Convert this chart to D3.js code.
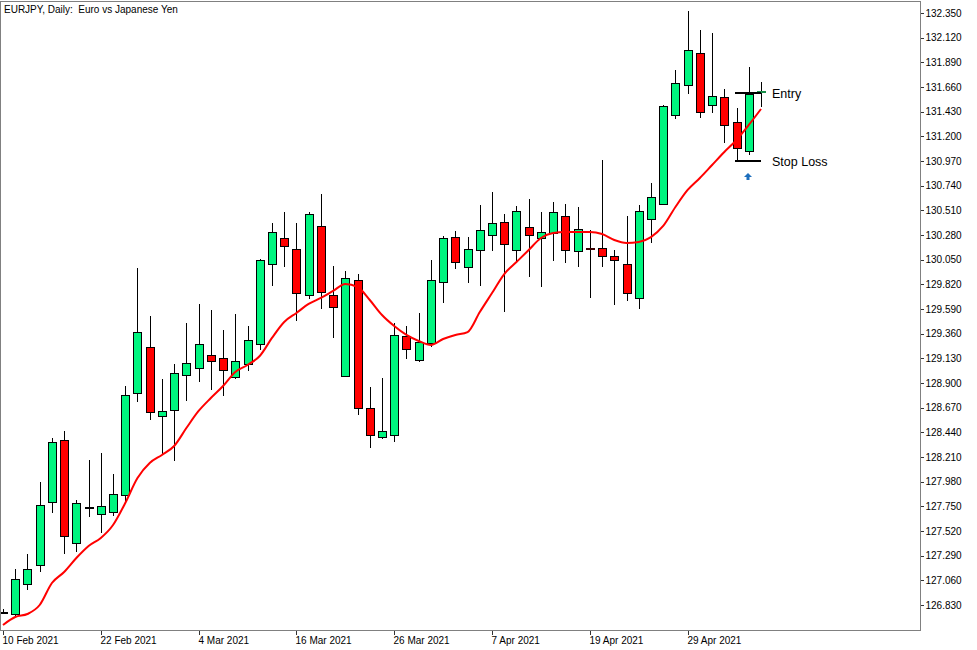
<!DOCTYPE html>
<html>
<head>
<meta charset="utf-8">
<script src="https://cdn.jsdelivr.net/npm/d3@7/dist/d3.min.js"></script>
<style>
  body { margin: 0; background: #fff; }
  svg { display: block; }
</style>
</head>
<body>
<div id="chart"></div>
<script>
// EURJPY daily bars, 10 Feb 2021 .. 7 May 2021
var open = [126.765, 126.746, 127.026, 127.203, 127.790, 128.369, 127.408, 127.744, 127.678, 127.697,
            127.856, 128.807, 129.236, 128.592, 128.648, 128.975, 129.040, 129.161, 129.133, 128.956,
            129.077, 129.264, 130.010, 130.252, 130.149, 129.720, 130.364, 129.720, 128.965, 129.860,
            128.667, 128.397, 128.415, 129.338, 129.114, 129.273, 129.842, 130.261, 129.982, 130.140,
            130.280, 130.401, 130.140, 130.355, 130.252, 130.299, 130.457, 130.131, 130.159, 130.159,
            130.084, 130.010, 129.693, 130.429, 130.569, 131.399, 131.679, 131.977, 131.492, 131.567,
            131.334, 131.063, 131.613];
var high = [126.793, 127.166, 127.306, 127.977, 128.387, 128.452, 127.809, 128.182, 128.247, 128.051,
            128.872, 129.972, 129.525, 128.937, 129.077, 129.459, 129.637, 129.581, 129.394, 129.543,
            129.431, 130.056, 130.392, 130.494, 130.392, 130.494, 130.662, 129.991, 129.944, 129.916,
            128.863, 128.947, 129.459, 129.431, 129.553, 130.047, 130.271, 130.317, 130.261, 130.560,
            130.681, 130.476, 130.550, 130.616, 130.494, 130.588, 130.569, 130.541, 130.327, 130.979,
            130.140, 130.457, 130.560, 130.765, 131.492, 131.818, 132.369, 132.192, 132.164, 131.641,
            131.464, 131.846, 131.707];
var low = [126.746, 126.709, 126.970, 127.138, 127.688, 127.306, 127.324, 127.650, 127.501, 127.660,
           127.800, 128.723, 128.555, 128.238, 128.173, 128.732, 128.909, 128.835, 128.779, 128.937,
           129.012, 129.208, 129.804, 129.982, 129.478, 129.683, 129.590, 129.320, 128.956, 128.602,
           128.294, 128.378, 128.350, 129.124, 129.096, 129.236, 129.646, 129.963, 129.832, 129.804,
           130.131, 129.562, 130.038, 129.888, 129.795, 130.038, 130.019, 129.982, 129.693, 129.982,
           129.627, 129.665, 129.590, 130.205, 130.569, 131.362, 131.595, 131.371, 131.418, 131.138,
           130.970, 131.026, 131.474];
var close = [126.765, 127.072, 127.166, 127.762, 128.350, 127.473, 127.781, 127.744, 127.753, 127.865,
             128.788, 129.375, 128.630, 128.639, 128.993, 129.086, 129.264, 129.105, 129.021, 129.105,
             129.301, 130.047, 130.308, 130.177, 129.739, 130.476, 129.748, 129.609, 129.879, 128.667,
             128.415, 128.452, 129.348, 129.217, 129.282, 129.860, 130.252, 130.028, 130.149, 130.327,
             130.392, 130.196, 130.504, 130.280, 130.308, 130.494, 130.140, 130.336, 130.159, 130.084,
             130.047, 129.739, 130.504, 130.634, 131.483, 131.697, 132.005, 131.427, 131.576, 131.306,
             131.091, 131.595, 131.623];
// red moving average, one value per bar
var ma = [126.644, 126.718, 126.746, 126.830, 127.035, 127.138, 127.268, 127.380, 127.455, 127.576,
          127.781, 128.014, 128.154, 128.229, 128.313, 128.480, 128.639, 128.760, 128.872, 129.003,
          129.068, 129.152, 129.320, 129.469, 129.553, 129.637, 129.693, 129.758, 129.823, 129.795,
          129.674, 129.534, 129.431, 129.348, 129.292, 129.254, 129.310, 129.348, 129.375, 129.562,
          129.739, 129.916, 130.028, 130.140, 130.252, 130.299, 130.308, 130.308, 130.308, 130.289,
          130.233, 130.205, 130.215, 130.261, 130.364, 130.541, 130.700, 130.812, 130.933, 131.054,
          131.166, 131.306, 131.455];

var priceTicks = [132.35, 132.12, 131.89, 131.66, 131.43, 131.20, 130.97, 130.74, 130.51, 130.28,
                  130.05, 129.82, 129.59, 129.36, 129.13, 128.90, 128.67, 128.44, 128.21, 127.98,
                  127.75, 127.52, 127.29, 127.06, 126.83];
var dateTicks = [0, 8, 16, 24, 32, 40, 48, 56];
var dateLabels = ["10 Feb 2021", "22 Feb 2021", "4 Mar 2021", "16 Mar 2021",
                  "26 Mar 2021", "7 Apr 2021", "19 Apr 2021", "29 Apr 2021"];

var entryPrice = 131.604;
var stopPrice = 130.970;
var signalBar = 61;

var width = 977;
var height = 650;
var plotRight = 920;
var plotBottom = 630;

var bullColor = "#00f57f";
var bearColor = "#ff0000";

var x = d3.scaleLinear().domain([0, 62]).range([3, 761]);
var y = d3.scaleLinear().domain([126.83, 132.35]).range([605, 13]);

var px = function (v) { return Math.round(v) + 0.5; };

const svg = d3.select("#chart")
    .append("svg")
    .attr("width", width)
    .attr("height", height)
    .style("font-family", "'Liberation Sans', Arial, sans-serif");

svg.append("defs").append("clipPath")
    .attr("id", "plot-clip")
  .append("rect")
    .attr("x", 1)
    .attr("y", 2)
    .attr("width", plotRight - 1)
    .attr("height", plotBottom - 2);

var plot = svg.append("g").attr("clip-path", "url(#plot-clip)");

var bars = d3.range(open.length);

// wicks
plot.append("g")
  .selectAll("line")
  .data(bars)
  .join("line")
    .attr("x1", i => px(x(i)))
    .attr("x2", i => px(x(i)))
    .attr("y1", i => Math.round(y(high[i])))
    .attr("y2", i => Math.round(y(low[i])))
    .attr("stroke", "#000")
    .attr("stroke-width", 1)
    .attr("shape-rendering", "crispEdges");

// bodies (dojis drawn as a flat dash)
var bodies = plot.append("g");
bodies.selectAll("rect")
  .data(bars.filter(i => Math.abs(y(open[i]) - y(close[i])) >= 1.5))
  .join("rect")
    .attr("x", i => Math.round(x(i)) - 3.5)
    .attr("y", i => Math.round(y(Math.max(open[i], close[i]))) + 0.5)
    .attr("width", 8)
    .attr("height", i => Math.round(Math.abs(y(open[i]) - y(close[i]))))
    .attr("fill", i => close[i] >= open[i] ? bullColor : bearColor)
    .attr("stroke", "#000")
    .attr("stroke-width", 1)
    .attr("shape-rendering", "crispEdges");

bodies.selectAll("line")
  .data(bars.filter(i => Math.abs(y(open[i]) - y(close[i])) < 1.5))
  .join("line")
    .attr("x1", i => Math.round(x(i)) - 4)
    .attr("x2", i => Math.round(x(i)) + 5)
    .attr("y1", i => px(y(close[i])))
    .attr("y2", i => px(y(close[i])))
    .attr("stroke", i => close[i] > open[i] ? "#1a8f4a" : (i == 48 ? "#3a0000" : "#000"))
    .attr("stroke-width", 2)
    .attr("shape-rendering", "crispEdges");

// moving average
var line = d3.line()
    .x((d, i) => x(i))
    .y(d => y(d))
    .curve(d3.curveMonotoneX);

plot.append("path")
    .datum(ma)
    .attr("fill", "none")
    .attr("stroke", "#ff0000")
    .attr("stroke-width", 2)
    .attr("d", line);

// entry / stop loss marks
var levels = [{ price: entryPrice, label: "Entry" }, { price: stopPrice, label: "Stop Loss" }];
plot.append("g")
  .selectAll("line")
  .data(levels)
  .join("line")
    .attr("x1", x(signalBar - 1) - 2)
    .attr("x2", x(signalBar + 1))
    .attr("y1", d => Math.round(y(d.price)))
    .attr("y2", d => Math.round(y(d.price)))
    .attr("stroke", "#000")
    .attr("stroke-width", 2)
    .attr("shape-rendering", "crispEdges");

svg.append("g")
    .attr("font-size", 12.5)
    .attr("fill", "#000")
  .selectAll("text")
  .data(levels)
  .join("text")
    .attr("x", 772)
    .attr("y", d => y(d.price))
    .attr("dy", "0.36em")
    .text(d => d.label);

// buy arrow under the signal bar
var ax = Math.round(x(signalBar)) - 1;
var ay = Math.round(y(stopPrice)) + 12;
plot.append("path")
    .attr("d", `M${ax},${ay} L${ax + 4},${ay + 4} L${ax + 1.5},${ay + 4} L${ax + 1.5},${ay + 7} L${ax - 1.5},${ay + 7} L${ax - 1.5},${ay + 4} L${ax - 4},${ay + 4} Z`)
    .attr("fill", "#1d6fbd");

// frame
svg.append("rect")
    .attr("x", 0.5)
    .attr("y", 1.5)
    .attr("width", plotRight)
    .attr("height", plotBottom - 1)
    .attr("fill", "none")
    .attr("stroke", "#808080")
    .attr("shape-rendering", "crispEdges");

// price axis
var yAxis = svg.append("g")
    .attr("transform", `translate(${plotRight + 0.5},0)`)
    .call(d3.axisRight(y)
        .tickValues(priceTicks)
        .tickSize(3)
        .tickPadding(2)
        .tickFormat(d3.format(".3f")));
yAxis.select(".domain").remove();
yAxis.selectAll("text").attr("font-size", 10).attr("fill", "#000").attr("font-family", "'Liberation Sans', Arial, sans-serif");
yAxis.selectAll("line").attr("stroke", "#333").attr("shape-rendering", "crispEdges");

// date axis
var xAxis = svg.append("g")
    .attr("transform", `translate(0,${plotBottom + 0.5})`)
    .call(d3.axisBottom(x)
        .tickValues(dateTicks)
        .tickSize(4)
        .tickPadding(2)
        .tickFormat((d, i) => dateLabels[i]));
xAxis.select(".domain").remove();
xAxis.selectAll(".tick").attr("transform", d => `translate(${px(x(d))},0)`);
xAxis.selectAll("text")
    .attr("text-anchor", "start")
    .attr("x", -1)
    .attr("font-size", 10)
    .attr("fill", "#000")
    .attr("font-family", "'Liberation Sans', Arial, sans-serif");
xAxis.selectAll("line").attr("stroke", "#333").attr("shape-rendering", "crispEdges");

// title
svg.append("text")
    .attr("x", 4)
    .attr("y", 13)
    .attr("font-size", 10)
    .attr("fill", "#000")
    .style("white-space", "pre")
    .text("EURJPY, Daily:  Euro vs Japanese Yen");
</script>
</body>
</html>
